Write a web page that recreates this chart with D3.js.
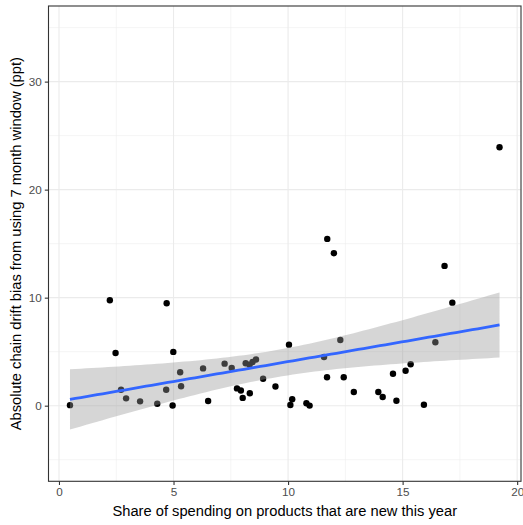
<!DOCTYPE html>
<html>
<head>
<meta charset="utf-8">
<script src="https://cdn.jsdelivr.net/npm/d3@7"></script>
<style>
  html, body { margin: 0; padding: 0; background: #fff; }
  svg { display: block; }
  text { font-family: "Liberation Sans", Arial, sans-serif; }
</style>
</head>
<body>
<svg id="chart" width="523" height="525"></svg>
<script>
// Share of spending on new products (x) vs. absolute chain drift bias (y)
const shareNew = [0.48, 2.22, 2.47, 2.71, 2.93, 3.54, 4.29, 4.70, 4.68, 4.99,
  4.96, 5.29, 5.33, 6.29, 6.51, 7.23, 7.54, 7.77, 7.94, 8.02,
  8.15, 8.32, 8.45, 8.60, 8.33, 8.91, 9.45, 10.04, 10.18, 10.10,
  10.80, 10.94, 11.57, 11.71, 12.00, 11.70, 12.28, 12.43, 12.87, 13.94,
  14.13, 14.58, 14.73, 15.13, 15.35, 15.93, 16.43, 16.83, 17.17, 19.23];
const driftBias = [0.05, 9.76, 4.88, 1.48, 0.68, 0.40, 0.18, 9.48, 1.48, 4.98,
  0.02, 3.09, 1.80, 3.45, 0.43, 3.89, 3.50, 1.60, 1.40, 0.72,
  3.93, 3.80, 4.05, 4.27, 1.15, 2.50, 1.78, 5.65, 0.60, 0.07,
  0.23, 0.01, 4.51, 15.44, 14.11, 2.63, 6.08, 2.63, 1.27, 1.27,
  0.81, 2.96, 0.46, 3.24, 3.83, 0.09, 5.87, 12.94, 9.54, 23.93];

const xTicks = [0, 5, 10, 15, 20];
const xMinor = [2.5, 7.5, 12.5, 17.5];
const yTicks = [0, 10, 20, 30];
const yMinor = [-5, 5, 15, 25, 35];
const yLimits = [-5, 35];

const xTitle = "Share of spending on products that are new this year";
const yTitle = "Absolute chain drift bias from using 7 month window (ppt)";

const svg = d3.select("#chart");
const panel = { left: 48.5, right: 521, top: 6, bottom: 481.3 };

// ggplot-style 5% expansion on each side
const xExt = d3.extent(shareNew);
const xPad = (xExt[1] - xExt[0]) * 0.05;
const yPad = (yLimits[1] - yLimits[0]) * 0.05;
const x = d3.scaleLinear().domain([xExt[0] - xPad, xExt[1] + xPad]).range([panel.left, panel.right]);
const y = d3.scaleLinear().domain([yLimits[0] - yPad, yLimits[1] + yPad]).range([panel.bottom, panel.top]);

// Linear fit with 95% confidence band
const pts = shareNew.map((v, i) => ({ x: v, y: driftBias[i] }));
const n = pts.length;
const xbar = d3.mean(shareNew), ybar = d3.mean(driftBias);
const sxx = d3.sum(shareNew, v => (v - xbar) ** 2);
const sxy = d3.sum(pts, p => (p.x - xbar) * (p.y - ybar));
const slope = sxy / sxx;
const intercept = ybar - slope * xbar;
const rss = d3.sum(pts, p => (p.y - intercept - slope * p.x) ** 2);
const sigma = Math.sqrt(rss / (n - 2));
// Student t quantile (0.975) via Cornish-Fisher expansion
function tQuantile(df) {
  const z = 1.959964;
  const z3 = z ** 3, z5 = z ** 5, z7 = z ** 7;
  return z + (z3 + z) / (4 * df) + (5 * z5 + 16 * z3 + 3 * z) / (96 * df * df)
    + (3 * z7 + 19 * z5 + 17 * z3 - 15 * z) / (384 * df ** 3);
}
const tq = tQuantile(n - 2);
const fit = d3.range(80).map(i => {
  const xv = xExt[0] + (xExt[1] - xExt[0]) * i / 79;
  const yv = intercept + slope * xv;
  const se = sigma * Math.sqrt(1 / n + (xv - xbar) ** 2 / sxx);
  return { x: xv, y: yv, lo: yv - tq * se, hi: yv + tq * se };
});

// Panel background and grid
const g = svg.append("g");
g.append("rect").attr("x", panel.left).attr("y", panel.top)
  .attr("width", panel.right - panel.left).attr("height", panel.bottom - panel.top)
  .attr("fill", "#fff");

g.selectAll(".xminor").data(xMinor).join("line")
  .attr("x1", d => x(d)).attr("x2", d => x(d))
  .attr("y1", panel.top).attr("y2", panel.bottom)
  .attr("stroke", "#EBEBEB").attr("stroke-width", 0.55);
g.selectAll(".yminor").data(yMinor).join("line")
  .attr("y1", d => y(d)).attr("y2", d => y(d))
  .attr("x1", panel.left).attr("x2", panel.right)
  .attr("stroke", "#EBEBEB").attr("stroke-width", 0.55);
g.selectAll(".xmajor").data(xTicks).join("line")
  .attr("x1", d => x(d)).attr("x2", d => x(d))
  .attr("y1", panel.top).attr("y2", panel.bottom)
  .attr("stroke", "#EBEBEB").attr("stroke-width", 1.1);
g.selectAll(".ymajor").data(yTicks).join("line")
  .attr("y1", d => y(d)).attr("y2", d => y(d))
  .attr("x1", panel.left).attr("x2", panel.right)
  .attr("stroke", "#EBEBEB").attr("stroke-width", 1.1);

// Points
g.selectAll("circle").data(pts).join("circle")
  .attr("cx", d => x(d.x)).attr("cy", d => y(d.y)).attr("r", 3.2)
  .attr("fill", "#000");

// Confidence ribbon and fitted line
g.append("path").datum(fit)
  .attr("d", d3.area().x(d => x(d.x)).y0(d => y(d.lo)).y1(d => y(d.hi)))
  .attr("fill", "#999999").attr("fill-opacity", 0.4);
g.append("path").datum(fit)
  .attr("d", d3.line().x(d => x(d.x)).y(d => y(d.y)))
  .attr("fill", "none").attr("stroke", "#3366FF").attr("stroke-width", 2.8);

// Panel border
g.append("rect").attr("x", panel.left).attr("y", panel.top)
  .attr("width", panel.right - panel.left).attr("height", panel.bottom - panel.top)
  .attr("fill", "none").attr("stroke", "#333333").attr("stroke-width", 1.1);

// Axes
const xAxis = svg.append("g").attr("transform", `translate(0,${panel.bottom})`)
  .call(d3.axisBottom(x).tickValues(xTicks).tickSize(3.7).tickPadding(3));
const yAxis = svg.append("g").attr("transform", `translate(${panel.left},0)`)
  .call(d3.axisLeft(y).tickValues(yTicks).tickSize(3.7).tickPadding(3));
[xAxis, yAxis].forEach(a => {
  a.select(".domain").remove();
  a.selectAll(".tick line").attr("stroke", "#333333").attr("stroke-width", 1.1);
  a.selectAll(".tick text").attr("fill", "#4D4D4D")
    .style("font-size", "11.7px").style("font-family", "'Liberation Sans', Arial, sans-serif");
});

// Axis titles
svg.append("text").attr("x", (panel.left + panel.right) / 2).attr("y", 516)
  .attr("text-anchor", "middle").attr("fill", "#000").style("font-size", "14.7px")
  .text(xTitle);
svg.append("text")
  .attr("transform", `translate(21,${(panel.top + panel.bottom) / 2}) rotate(-90)`)
  .attr("text-anchor", "middle").attr("fill", "#000").style("font-size", "14.7px")
  .text(yTitle);
</script>
</body>
</html>
